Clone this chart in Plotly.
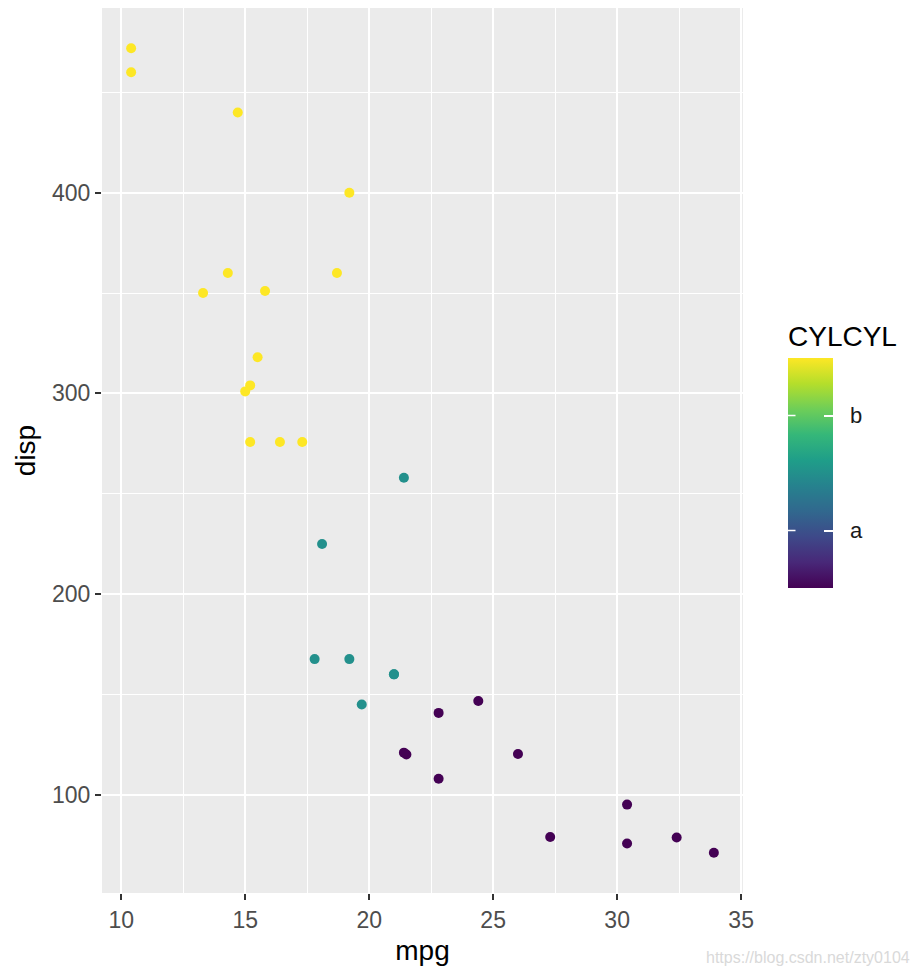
import plotly.graph_objects as go

# mtcars: mpg, disp, cyl
mpg = [21.0, 21.0, 22.8, 21.4, 18.7, 18.1, 14.3, 24.4, 22.8, 19.2, 17.8,
       16.4, 17.3, 15.2, 10.4, 10.4, 14.7, 32.4, 30.4, 33.9, 21.5, 15.5,
       15.2, 13.3, 19.2, 27.3, 26.0, 30.4, 15.8, 19.7, 15.0, 21.4]
disp = [160, 160, 108, 258, 360, 225, 360, 146.7, 140.8, 167.6, 167.6,
        275.8, 275.8, 275.8, 472, 460, 440, 78.7, 75.7, 71.1, 120.1, 318,
        304, 350, 400, 79, 120.3, 95.1, 351, 145, 301, 121]
cyl = [6, 6, 4, 6, 8, 6, 8, 4, 4, 6, 6,
       8, 8, 8, 8, 8, 8, 4, 4, 4, 4, 8,
       8, 8, 8, 4, 4, 4, 8, 6, 8, 4]

cbar_ticks = [5, 7]
cbar_labels = ["a", "b"]

FONT = "Liberation Sans, Arial, sans-serif"

# page has an 8px body margin, so the figure is a bit smaller than the window
W, H = 912, 966
L, R, T, B = 94, 177, 0, 81
pw, ph = W - L - R, H - T - B

# colorbar geometry (figure pixels)
bar_x0, bar_w = 780, 45
bar_top, bar_bot = 350, 580
cb_x = (bar_x0 - L) / pw
cb_y0 = (H - B - bar_bot) / ph
cb_y1 = (H - B - bar_top) / ph

# white ticks on the left edge of the colorbar (ggplot draws both sides),
# done as arrow-only annotations so they sit above the colorbar
tick_notes = []
for v in cbar_ticks:
    yy = cb_y0 + (v - 4) / 4 * (cb_y1 - cb_y0)
    tick_notes.append(dict(xref="paper", yref="paper", x=cb_x, y=yy, text="",
                           showarrow=True, arrowhead=0, arrowwidth=1.5,
                           arrowcolor="white", ax=9, ay=0, standoff=0,
                           startstandoff=0))

fig = go.Figure(
    data=[
        go.Scatter(
            x=mpg, y=disp, mode="markers",
            marker=dict(
                color=cyl, colorscale="Viridis", cmin=4, cmax=8, size=10,
                line=dict(width=0),
                colorbar=dict(
                    title=dict(text="CYLCYL", side="top",
                               font=dict(size=28, color="black", family=FONT)),
                    tickvals=cbar_ticks,
                    ticktext=["\u00a0\u00a0" + s for s in cbar_labels],
                    ticks="inside", ticklen=9, tickcolor="white", tickwidth=1.5,
                    tickfont=dict(size=22, color="#1a1a1a", family=FONT),
                    thickness=bar_w, thicknessmode="pixels",
                    len=(bar_bot - bar_top) + 36, lenmode="pixels",
                    x=cb_x, xanchor="left", xref="paper",
                    y=cb_y0, yanchor="bottom", yref="paper",
                    outlinewidth=0, xpad=0, ypad=0,
                ),
            ),
            showlegend=False,
        )
    ],
    layout=go.Layout(
        width=W, height=H,
        margin=dict(l=L, r=R, t=T, b=B),
        paper_bgcolor="white",
        plot_bgcolor="#EBEBEB",
        font=dict(family=FONT),
        xaxis=dict(
            range=[9.225, 35.075], tickvals=[10, 15, 20, 25, 30, 35],
            showgrid=True, gridcolor="white", gridwidth=2,
            minor=dict(tickvals=[12.5, 17.5, 22.5, 27.5, 32.5],
                       showgrid=True, gridcolor="white", gridwidth=1, ticks=""),
            ticks="outside", ticklen=6, tickcolor="#333333", tickwidth=1.5,
            tickfont=dict(size=23, color="#4D4D4D"),
            title=dict(text="mpg", font=dict(size=28, color="black"), standoff=8),
            zeroline=False, showline=False,
        ),
        yaxis=dict(
            range=[51.055, 492.045], tickvals=[100, 200, 300, 400],
            showgrid=True, gridcolor="white", gridwidth=2,
            minor=dict(tickvals=[150, 250, 350, 450],
                       showgrid=True, gridcolor="white", gridwidth=1, ticks=""),
            ticks="outside", ticklen=6, tickcolor="#333333", tickwidth=1.5,
            tickfont=dict(size=23, color="#4D4D4D"),
            title=dict(text="disp", font=dict(size=28, color="black"), standoff=8),
            zeroline=False, showline=False,
        ),
        annotations=tick_notes + [
            dict(text="https://blog.csdn.net/zty0104", xref="paper", yref="paper",
                 x=(904 - L) / pw, y=-(949 - (H - B)) / ph,
                 xanchor="right", yanchor="middle", showarrow=False,
                 font=dict(size=16, color="#D9D9D9", family=FONT)),
        ],
    ),
)

fig.write_html("out.html")
